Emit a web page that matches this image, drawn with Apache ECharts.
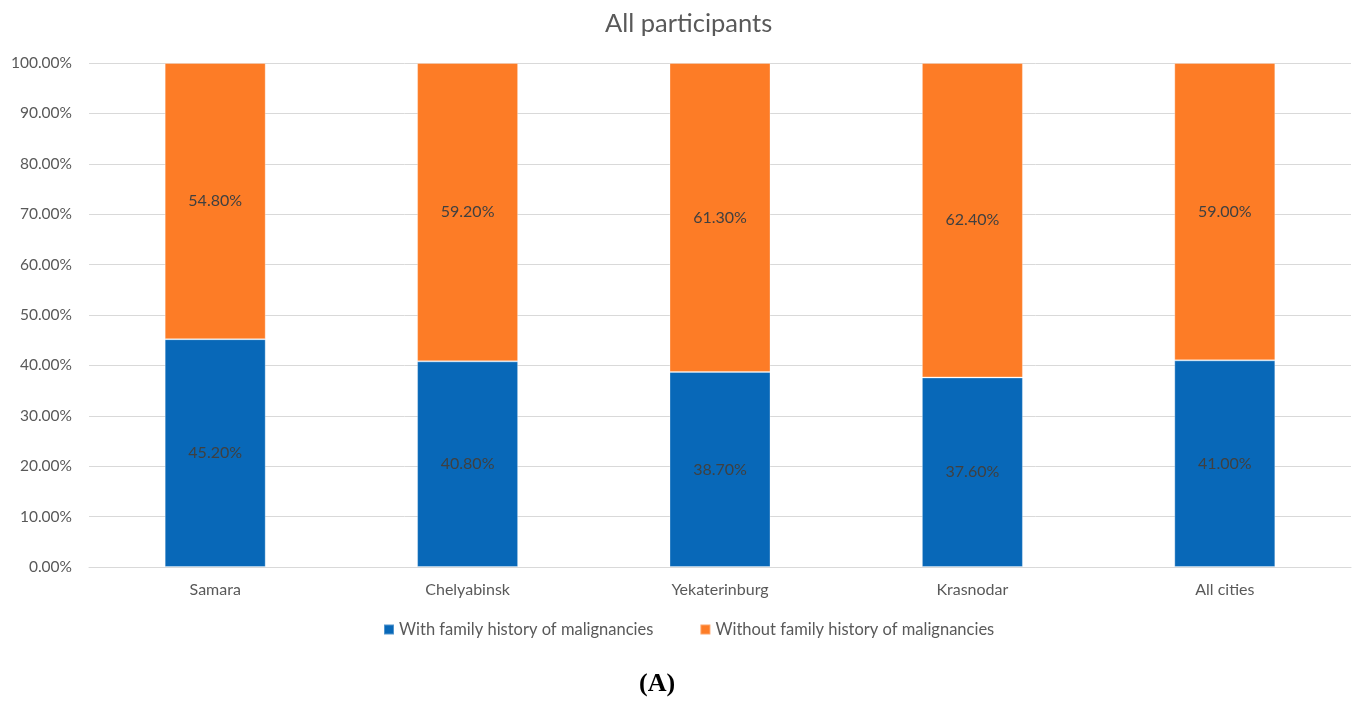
<!DOCTYPE html>
<html>
<head>
<meta charset="utf-8">
<script src="https://cdn.jsdelivr.net/npm/echarts@6/dist/echarts.min.js"></script>
<style>
  html, body { margin: 0; padding: 0; background: #fff; }
  #chart { width: 1359px; height: 702px; }
</style>
</head>
<body>
<div id="chart"></div>
<script>
// Share of participants with / without a family history of malignancies, by city (%)
const cities = ['Samara', 'Chelyabinsk', 'Yekaterinburg', 'Krasnodar', 'All cities'];
const withHistory = [45.2, 40.8, 38.7, 37.6, 41.0];
const withoutHistory = [54.8, 59.2, 61.3, 62.4, 59.0];
const seriesNames = ['With family history of malignancies', 'Without family history of malignancies'];
const yTicks = [0, 10, 20, 30, 40, 50, 60, 70, 80, 90, 100];

const FONT = 'Lato, "Open Sans", sans-serif';

const chart = echarts.init(document.getElementById('chart'), null, { renderer: 'canvas' });

function pct(v) { return v.toFixed(2) + '%'; }

const labelStyle = {
  show: true,
  position: 'inside',
  color: '#404040',
  fontFamily: FONT,
  fontSize: 16,
  formatter: p => pct(p.value)
};

chart.setOption({
  animation: false,
  backgroundColor: '#ffffff',
  title: [
    {
      text: 'All participants',
      left: 600,
      top: 6,
      textStyle: { color: '#595959', fontFamily: FONT, fontSize: 25.5, fontWeight: 'normal' }
    },
    {
      text: '(A)',
      left: 634,
      top: 666,
      textStyle: { color: '#000000', fontFamily: '"Liberation Serif", "DejaVu Serif", serif', fontSize: 26, fontWeight: 'bold' }
    }
  ],
  legend: {
    data: seriesNames,
    top: 616,
    left: 378,
    itemWidth: 10,
    itemHeight: 10,
    itemGap: 46,
    icon: 'rect',
    textStyle: { color: '#595959', fontFamily: FONT, fontSize: 16.5 }
  },
  grid: { left: 89, right: 8, top: 63, bottom: 135, containLabel: false },
  xAxis: {
    type: 'category',
    data: cities,
    axisLine: { show: true, lineStyle: { color: '#d9d9d9', width: 1 } },
    axisTick: { show: false },
    axisLabel: { color: '#595959', fontFamily: FONT, fontSize: 16, margin: 15 }
  },
  yAxis: {
    type: 'value',
    min: yTicks[0],
    max: yTicks[yTicks.length - 1],
    interval: 10,
    axisLine: { show: false },
    axisTick: { show: false },
    splitLine: { lineStyle: { color: '#d9d9d9', width: 1 } },
    axisLabel: { color: '#595959', fontFamily: FONT, fontSize: 15.5, margin: 17, formatter: v => pct(v) }
  },
  series: [
    {
      name: seriesNames[0],
      type: 'bar',
      stack: 'total',
      barWidth: 101,
      data: withHistory,
      itemStyle: { color: '#0868B8', borderColor: 'rgba(255,255,255,0.3)', borderWidth: 1 },
      label: labelStyle
    },
    {
      name: seriesNames[1],
      type: 'bar',
      stack: 'total',
      barWidth: 101,
      data: withoutHistory,
      itemStyle: { color: '#FD7C26', borderColor: 'rgba(255,255,255,0.3)', borderWidth: 1 },
      label: labelStyle
    }
  ]
});
</script>
</body>
</html>
